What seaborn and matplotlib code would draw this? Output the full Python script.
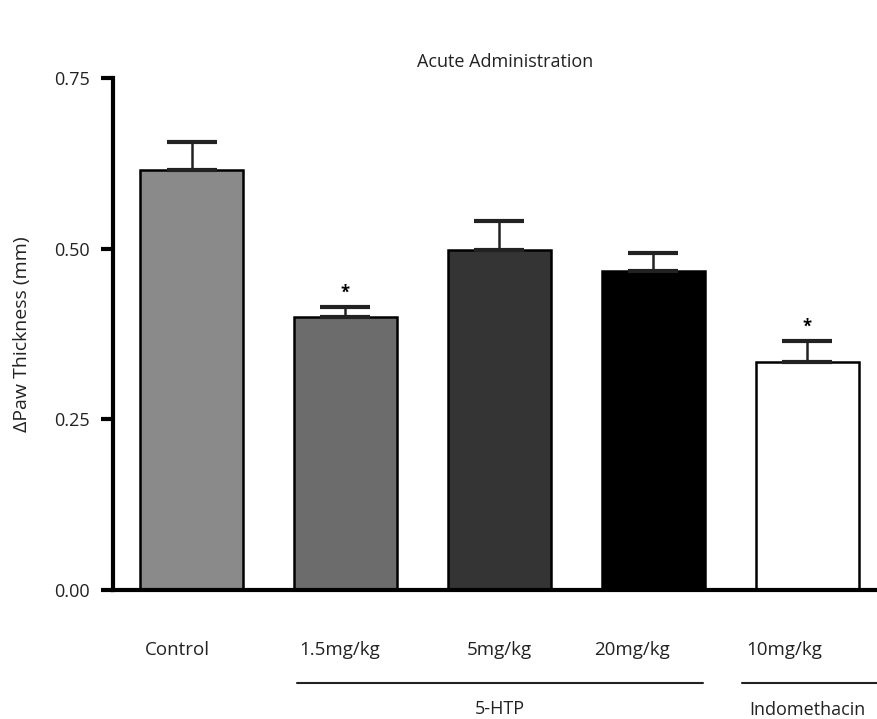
import matplotlib
matplotlib.use("Agg")
import matplotlib.pyplot as plt
import matplotlib.transforms as mtransforms
import seaborn as sns
import pandas as pd

categories = ["Control", "1.5mg/kg", "5mg/kg", "20mg/kg", "10mg/kg"]
means = [0.615, 0.400, 0.498, 0.467, 0.334]
sem = [0.041, 0.015, 0.043, 0.027, 0.031]
colors = ["#8a8a8a", "#6c6c6c", "#343434", "#000000", "#ffffff"]
significant = [False, True, False, False, True]
groups = [("5-HTP", 1, 3), ("Indomethacin", 4, 4)]
yticks = [0.00, 0.25, 0.50, 0.75]

sns.set_theme(style="white")
plt.rcParams["font.family"] = ["Open Sans", "DejaVu Sans"]

W, H = 878, 719
fig = plt.figure(figsize=(W / 100, H / 100), dpi=100)
ax_left, ax_right = 113 / W, 1.0
ax_bottom, ax_top = 1 - 590 / H, 1 - 78 / H
ax = fig.add_axes([ax_left, ax_bottom, ax_right - ax_left, ax_top - ax_bottom])

df = pd.DataFrame({"group": categories, "value": means})
sns.barplot(data=df, x="group", y="value", hue="group", palette=colors,
            order=categories, hue_order=categories, width=0.67,
            edgecolor="black", linewidth=1.8, legend=False, ax=ax, zorder=2)

xs = list(range(len(categories)))
ax.errorbar(xs, means, yerr=[[0] * len(sem), sem], fmt="none", ecolor="#222222",
            elinewidth=1.8, capsize=18, capthick=3.0, zorder=3, clip_on=False)

for x, m, s, sig in zip(xs, means, sem, significant):
    if sig:
        ax.text(x, m + s + 0.008, "*", ha="center", va="bottom", fontsize=12,
                fontweight="bold", color="black")

ax.set_xlim(-0.51, 4.46)
ax.set_ylim(0, 0.75)
ax.set_yticks(yticks)
ax.set_yticklabels([f"{v:.2f}" for v in yticks], fontsize=13, color="#222222")
ax.set_xticks(xs)
ax.set_xticklabels([])
ax.tick_params(axis="x", length=0)
ax.tick_params(axis="y", length=9, width=3, direction="out", color="black", pad=8, left=True)
ax.set_xlabel("")
ax.set_ylabel("\u0394Paw Thickness (mm)", fontsize=14, color="#222222", labelpad=16)

trans = mtransforms.blended_transform_factory(ax.transData, ax.transAxes)
label_shift = [-0.09, -0.04, 0.0, -0.14, -0.15]
for x, lab, dx in zip(xs, categories, label_shift):
    ax.text(x + dx, -0.118, lab, transform=trans, ha="center", va="center",
            fontsize=13.5, color="#222222")

for side in ["top", "right"]:
    ax.spines[side].set_visible(False)
for side in ["left", "bottom"]:
    ax.spines[side].set_visible(True)
    ax.spines[side].set_linewidth(3)
    ax.spines[side].set_color("black")

line_pad = {"5-HTP": (-0.315, 0.32), "Indomethacin": (-0.425, 0.6)}
label_y = {"5-HTP": -0.232, "Indomethacin": -0.234}
for name, i0, i1 in groups:
    p0, p1 = line_pad[name]
    ax.plot([i0 + p0, i1 + p1], [-0.182, -0.182], transform=trans, color="#222222",
            lw=1.5, clip_on=False)
    xc = (i0 + i1) / 2
    ax.text(xc, label_y[name], name, transform=trans, ha="center", va="center",
            fontsize=13, color="#222222")

fig.text(505 / W, 1 - 62 / H, "Acute Administration", ha="center", va="center",
         fontsize=13, color="#222222")

fig.savefig("out.png", dpi=100)
